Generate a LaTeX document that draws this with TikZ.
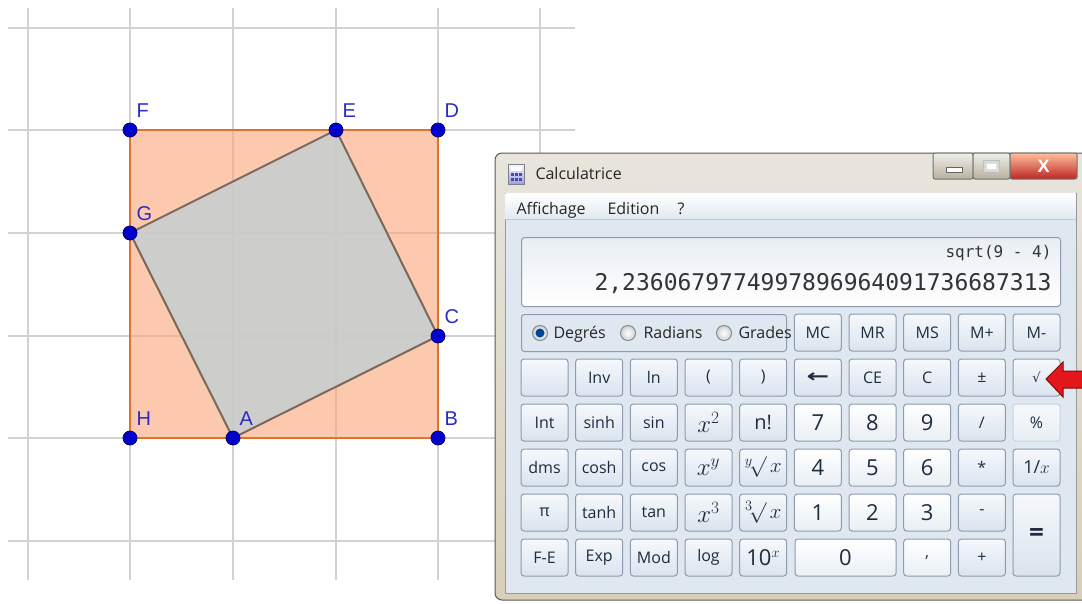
\documentclass[tikz,border=0pt]{standalone}
\usepackage{fontspec}
\setmainfont{Liberation Sans}
\newfontfamily\uifont{Open Sans}
\newfontfamily\dispfont{DejaVu Sans Mono}
\newfontfamily\symfont{DejaVu Sans}
\definecolor{gridgray}{HTML}{D2D2D2}
\definecolor{sqorange}{RGB}{250,165,123}
\definecolor{sqedge}{HTML}{E2712E}
\definecolor{tiltfill}{RGB}{197,206,210}
\definecolor{tiltedge}{HTML}{7A685A}
\definecolor{ptblue}{HTML}{0000CC}
\definecolor{lblblue}{HTML}{2B2BC8}
\definecolor{frametop}{HTML}{E8E5DE}
\definecolor{framebot}{HTML}{D9CFB8}
\definecolor{panel}{HTML}{DFE7F1}
\definecolor{keyedge}{HTML}{8E9BAE}
\definecolor{keytop}{HTML}{F6F9FC}
\definecolor{keybot}{HTML}{DAE3EE}
\definecolor{keytext}{HTML}{1E2C3D}
\definecolor{arrowred}{HTML}{E3161B}
\tikzset{
  every picture/.style={line width=1pt},
  ptdot/.style={fill=ptblue, draw=ptblue!55!black, line width=0.8pt},
  ptlabel/.style={anchor=base west, inner sep=0pt, xshift=6pt, yshift=13pt,
    text=lblblue, font=\fontsize{20}{24}\selectfont},
  calckey/.style={draw=keyedge, rounded corners=3pt, top color=keytop, bottom color=keybot,
    minimum width=47pt, minimum height=37pt, inner sep=0pt, text=keytext,
    font=\uifont\fontsize{16}{19}\selectfont},
  numkey/.style={calckey, top color=white, bottom color=keytop!55!keybot,
    font=\uifont\fontsize{22}{26}\selectfont},
  offkey/.style={calckey, draw=keyedge!45, top color=keytop, bottom color=keytop!50!keybot},
  mathkey/.style={calckey, font=\uifont\fontsize{24}{28}\selectfont},
  radio/.style={circle, draw=black!45, inner color=white, outer color=black!18,
    minimum size=15pt, inner sep=0pt},
  uitext/.style={anchor=base west, inner sep=0pt, text=black!85,
    font=\uifont\fontsize{16}{19}\selectfont},
  winbtn/.style={draw=black!55, rounded corners=2pt, top color=frametop!60!white,
    bottom color=framebot!85!black, minimum height=26pt, inner sep=0pt}
}

\begin{document}
\begin{tikzpicture}[x=1pt,y=-1pt]
\useasboundingbox (0,0) rectangle (1082,603);
\fill[white] (0,0) rectangle (1082,603);
% grid
\foreach \gx in {28,130,233,336,438,540}
  \draw[gridgray, line width=1.2pt] (\gx,8) -- (\gx,580);
\foreach \gy in {28,130,233,336,438,541}
  \draw[gridgray, line width=1.2pt] (8,\gy) -- (575,\gy);
% points
\coordinate (A) at (233,438);
\coordinate (B) at (438,438);
\coordinate (C) at (438,336);
\coordinate (D) at (438,130);
\coordinate (E) at (336,130);
\coordinate (F) at (130,130);
\coordinate (G) at (130,233);
\coordinate (H) at (130,438);
\fill[sqorange, fill opacity=0.6] (H) -- (B) -- (D) -- (F) -- cycle;
\fill[tiltfill, fill opacity=0.85] (A) -- (C) -- (E) -- (G) -- cycle;
\draw[sqedge, line width=1.6pt] (H) -- (B) -- (D) -- (F) -- cycle;
\draw[tiltedge, line width=2pt] (A) -- (C) -- (E) -- (G) -- cycle;
\foreach \p in {A,B,C,D,E,F,G,H}{
  \fill[ptdot] (\p) circle (7);
  \node[ptlabel] (l\p) at (\p) {\p};
}
% calculator window
\draw[black!65, top color=frametop, bottom color=framebot, rounded corners=7pt]
  (495,153) rectangle (1092,600);
\draw[black!40, fill=panel] (505,193) rectangle (1076,593);
\shade[top color=white, bottom color=keybot!80] (505.5,193.5) rectangle (1075.5,219);
\draw[black!22] (505.5,219) -- (1075.5,219);
% title bar
\draw[black!50, top color=keytop, bottom color=blue!30!keybot] (508,164) rectangle (524,184);
\fill[white] (510.5,166.5) rectangle (521.5,171);
\foreach \ix in {510.5,514.5,518.5}
  \foreach \iy in {173,177.5}
    \fill[blue!45!black!70] (\ix,\iy) rectangle ++(3,3);
\node[uitext] (title) at (535,179) {Calculatrice};
\node[winbtn, minimum width=40pt] (minbtn) at (953,166) {};
\node[winbtn, minimum width=37pt] (maxbtn) at (991.5,166) {};
\node[winbtn, minimum width=67pt, top color=red!25!orange!40, bottom color=red!70!black!85,
  text=white, font=\bfseries\fontsize{18}{20}\selectfont] (closebtn) at (1043.5,166) {X};
\draw[black!60, fill=white] (946,167) rectangle (962,172.5);
\draw[black!25, fill=white!85!black] (983,160) rectangle (999,172);
\draw[black!12, fill=white] (986,163) rectangle (996,169);
% menu
\node[uitext] (mview) at (516,214) {Affichage};
\node[uitext] (medit) at (607,214) {Edition};
\node[uitext] (mhelp) at (677,214) {?};
% display
\node[draw=keyedge, rounded corners=3pt, top color=keybot!60!white, bottom color=white,
  minimum width=539pt, minimum height=69pt, anchor=north west] (display) at (521,237) {};
\node[anchor=base east, inner sep=0pt, text=black!80, font=\dispfont\fontsize{16}{19}\selectfont]
  (expr) at (1052,257) {sqrt(9 - 4)};
\node[anchor=base east, inner sep=0pt, text=black!80, font=\dispfont\fontsize{23}{27}\selectfont]
  (result) at (1052,290) {2,2360679774997896964091736687313};
% angle units
\node[draw=keyedge, rounded corners=3pt, minimum width=265pt, minimum height=37pt,
  anchor=north west] (unitbox) at (521,314) {};
\node[radio] (deg) at (540,333) {};
\node[radio] (rad) at (628,333) {};
\node[radio] (grad) at (724,333) {};
\fill[blue!55!cyan!60!black] (deg) circle (4.5);
\node[uitext] (degtxt) at (553,338.5) {Degrés};
\node[uitext] (radtxt) at (643,338.5) {Radians};
\node[uitext] (gradtxt) at (738,338.5) {Grades};
% keys, row by row
\foreach \c/\t in {5/MC,6/MR,7/MS,8/M+,9/M-}
  \node[calckey] (k0-\c) at ({544.5+54.67*\c},332.5) {\t};
\node[calckey] (k1-0) at (544.5,377.5) {};
\foreach \c/\t in {1/Inv,2/ln,3/{(},4/{)},6/CE,7/C,8/{±}}
  \node[calckey] (k1-\c) at ({544.5+54.67*\c},377.5) {\t};
\node[calckey, font=\symfont\bfseries\fontsize{18}{20}\selectfont] (k1-5) at (817.9,377.5)
  {\scalebox{1.5}[1]{←}};
\node[calckey, font=\symfont\fontsize{13}{16}\selectfont] (k1-9) at (1036.5,377.5) {√};
\foreach \c/\t in {0/Int,1/sinh,2/sin}
  \node[calckey] (k2-\c) at ({544.5+54.67*\c},422.5) {\t};
\node[mathkey] (k2-3) at (708.5,422.5) {$x^2$};
\node[calckey, font=\uifont\fontsize{20}{24}\selectfont] (k2-4) at (763.2,422.5) {n!};
\foreach \c/\t in {5/7,6/8,7/9}
  \node[numkey] (k2-\c) at ({544.5+54.67*\c},422.5) {\t};
\node[calckey] (k2-8) at (981.9,422.5) {/};
\node[offkey] (k2-9) at (1036.5,422.5) {\%};
\foreach \c/\t in {0/dms,1/cosh,2/cos}
  \node[calckey] (k3-\c) at ({544.5+54.67*\c},467.5) {\t};
\node[mathkey] (k3-3) at (708.5,467.5) {$x^y$};
\node[mathkey, font=\fontsize{20}{24}\selectfont] (k3-4) at (763.2,467.5) {${}^{y}\!\surd\,x$};
\foreach \c/\t in {5/4,6/5,7/6}
  \node[numkey] (k3-\c) at ({544.5+54.67*\c},467.5) {\t};
\node[calckey] (k3-8) at (981.9,467.5) {*};
\node[calckey, font=\uifont\fontsize{18}{22}\selectfont] (k3-9) at (1036.5,467.5) {1/$x$};
\foreach \c/\t in {0/π,1/tanh,2/tan}
  \node[calckey] (k4-\c) at ({544.5+54.67*\c},512.5) {\t};
\node[mathkey] (k4-3) at (708.5,512.5) {$x^3$};
\node[mathkey, font=\fontsize{20}{24}\selectfont] (k4-4) at (763.2,512.5) {${}^{3}\!\surd\,x$};
\foreach \c/\t in {5/1,6/2,7/3}
  \node[numkey] (k4-\c) at ({544.5+54.67*\c},512.5) {\t};
\node[calckey] (k4-8) at (981.9,512.5) {-};
\node[calckey, minimum height=82pt, font=\uifont\bfseries\fontsize{26}{30}\selectfont]
  (k4-9) at (1036.5,535) {=};
\foreach \c/\t in {0/F-E,1/Exp,2/Mod,3/log}
  \node[calckey] (k5-\c) at ({544.5+54.67*\c},557.5) {\t};
\node[calckey, font=\uifont\fontsize{22}{26}\selectfont] (k5-4) at (763.2,557.5) {10$^{x}$};
\node[numkey, minimum width=101pt] (k5-5) at (845.5,557.5) {0};
\node[numkey, font=\uifont\fontsize{16}{19}\selectfont] (k5-7) at (927.2,557.5) {,};
\node[calckey] (k5-8) at (981.9,557.5) {+};
% red pointer on the root key
\filldraw[fill=arrowred, draw=arrowred!55!black, line width=1pt]
  (1046,379) -- (1063,362) -- (1063,371) -- (1090,371) -- (1090,388)
  -- (1063,388) -- (1063,397) -- cycle;
\end{tikzpicture}
\end{document}
